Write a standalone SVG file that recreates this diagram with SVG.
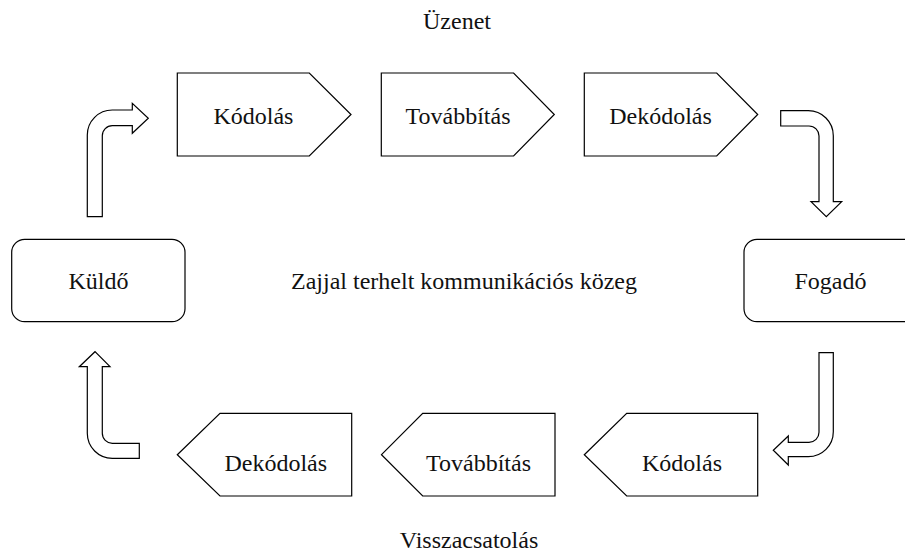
<svg xmlns="http://www.w3.org/2000/svg" width="905" height="556" viewBox="0 0 905 556">
<style>
.shape{fill:#fff;stroke:#000;stroke-width:1.2;stroke-linejoin:miter}
.conn{fill:#fff;stroke:#000;stroke-width:1.2}
text{font-family:"Liberation Serif","Times New Roman",serif;font-size:24px;fill:#111;text-anchor:middle}
</style>
<rect width="905" height="556" fill="#fff"/>
<text x="457" y="29">Üzenet</text>
<text x="469" y="548">Visszacsatolás</text>
<text x="464" y="289">Zajjal terhelt kommunikációs közeg</text>
<g id="kuldo">
<rect class="shape" x="11.7" y="239.3" width="173.3" height="82.4" rx="13"/>
<text x="98.5" y="289">Küldő</text>
</g>
<g id="fogado">
<rect class="shape" x="744" y="239.3" width="173.3" height="82.4" rx="13"/>
<text x="830.5" y="289">Fogadó</text>
</g>
<g id="kodolas-top">
<polygon class="shape" points="177.3,73 309.3,73 351,114.5 309.3,156 177.3,156"/>
<text x="253.4" y="124">Kódolás</text>
</g>
<g id="tovabbitas-top">
<polygon class="shape" points="381.3,73 513.6,73 554.3,114.5 513.6,156 381.3,156"/>
<text x="458" y="124">Továbbítás</text>
</g>
<g id="dekodolas-top">
<polygon class="shape" points="584.3,73 716.7,73 757.7,114.5 716.7,156 584.3,156"/>
<text x="660.5" y="124">Dekódolás</text>
</g>
<g id="kodolas-bottom">
<polygon class="shape" points="584.3,454.7 626.7,413.3 757.7,413.3 757.7,496 626.7,496"/>
<text x="682" y="471">Kódolás</text>
</g>
<g id="tovabbitas-bottom">
<polygon class="shape" points="381.5,454.7 422.7,413.3 555,413.3 555,496 422.7,496"/>
<text x="478.5" y="471">Továbbítás</text>
</g>
<g id="dekodolas-bottom">
<polygon class="shape" points="177.3,454.7 220,413.3 351.7,413.3 351.7,496 220,496"/>
<text x="275.8" y="471">Dekódolás</text>
</g>
<g id="connectors">
<path class="conn" d="M87.3 216.7 L87.3 135 A25 25 0 0 1 112.3 110 L132.3 110 L132.3 103.3 L148.3 118.3 L132.3 133.3 L132.3 125.7 L112.3 125.7 A10 10 0 0 0 102.3 135.7 L102.3 216.7 Z"/>
<path class="conn" d="M780.7 110.7 L808.3 110.7 A25 25 0 0 1 833.3 135.7 L833.3 201.7 L841.7 201.7 L826.3 216.7 L811 201.7 L819 201.7 L819 136 A10 10 0 0 0 809 126 L780.7 126 Z"/>
<path class="conn" d="M819 352.7 L833.3 352.7 L833.3 431.7 A25 25 0 0 1 808.3 456.7 L788.3 456.7 L788.3 465 L773.3 450.3 L788.3 436 L788.3 442.3 L809 442.3 A10 10 0 0 0 819 432.3 Z"/>
<path class="conn" d="M139.3 443.3 L139.3 458.3 L112.3 458.3 A25 25 0 0 1 87.3 433.3 L87.3 366.7 L79.3 366.7 L95 351.7 L110 366.7 L102.3 366.7 L102.3 433.3 A10 10 0 0 0 112.3 443.3 Z"/>
</g>
</svg>
